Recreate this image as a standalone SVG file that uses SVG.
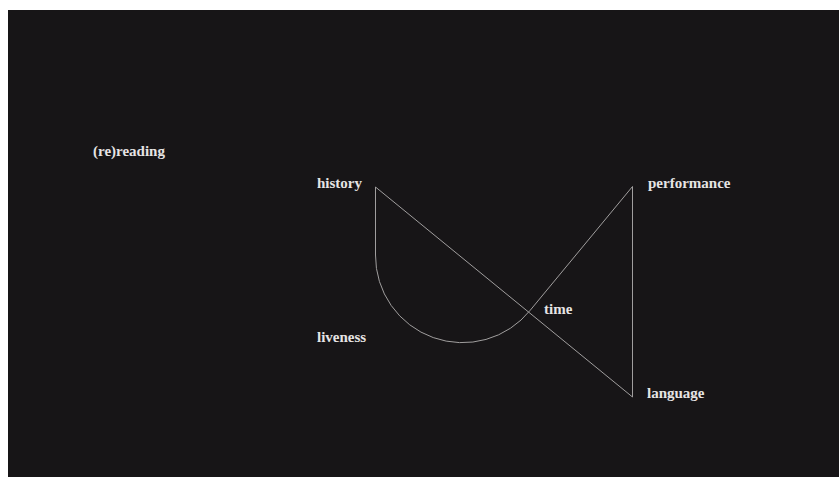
<svg xmlns="http://www.w3.org/2000/svg" width="839" height="477" viewBox="0 0 839 477">
  <style>
    .lbl { font-family: "Liberation Serif", "DejaVu Serif", serif; font-size: 15px; font-weight: bold; fill: #e6e4e4; }
    .edge { fill: none; stroke: #a09e9e; stroke-width: 1; }
  </style>
  <rect x="0" y="0" width="839" height="477" fill="#ffffff"/>
  <rect x="8" y="10" width="831" height="467" fill="#171517"/>
  <g id="connectors">
    <path class="edge" d="M375.5,187 V255 A87,87 0 0 0 530.2,310.3 L632.5,186.5 V397 Z"/>
  </g>
  <g id="node-rereading"><text class="lbl" x="93" y="156">(re)reading</text></g>
  <g id="node-history"><text class="lbl" x="317" y="188">history</text></g>
  <g id="node-liveness"><text class="lbl" x="317" y="342">liveness</text></g>
  <g id="node-time"><text class="lbl" x="544" y="314">time</text></g>
  <g id="node-performance"><text class="lbl" x="648" y="188">performance</text></g>
  <g id="node-language"><text class="lbl" x="647" y="398">language</text></g>
</svg>
